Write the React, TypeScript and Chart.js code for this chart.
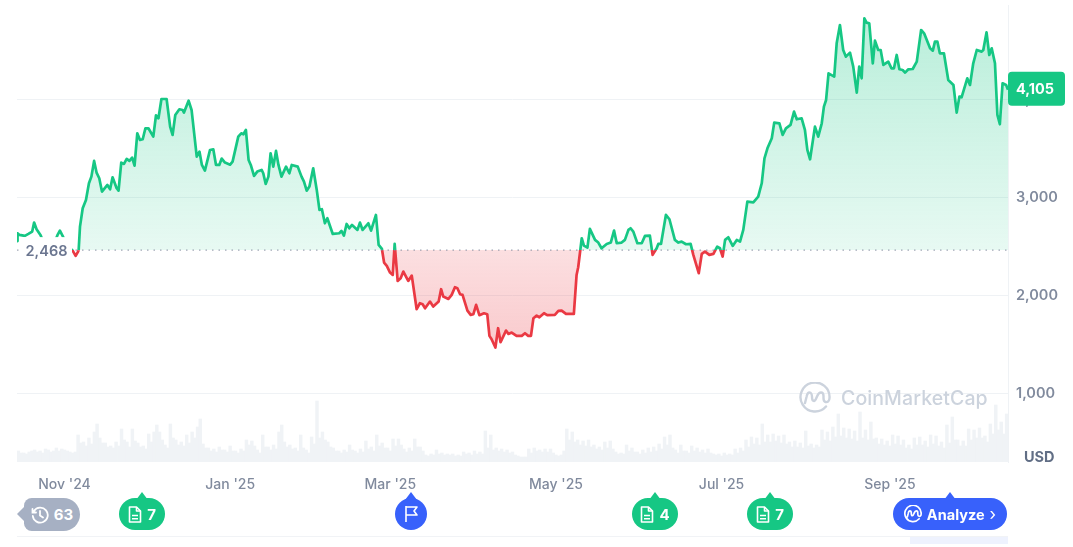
import React, { useEffect, useRef } from 'react';
import { Chart, registerables } from 'chart.js';

Chart.register(...registerables);

// days since the start of the window, and the price read at each of them
const days = [
  0, 0.2, 0.9, 2.9, 4.2, 5.6, 6.3, 7.2, 8.7, 10.3, 12.2, 13.4, 14.9, 15.8, 16.8, 18.3, 19.5, 20.5, 21.6, 22.7,
  23.2, 24.2, 25.4, 26.5, 27.4, 28.4, 29.3, 30.3, 31.3, 33.3, 34.3, 35.2, 36.7, 37.4, 38.4, 39.4, 40.4, 41.4, 42.4, 43.3,
  44.3, 45.3, 46.3, 47.3, 48.4, 50.2, 51.2, 52.1, 53.2, 55.1, 56.4, 57.3, 58.3, 59.8, 61.0, 61.5, 63.2, 64.3, 66.2, 67.2,
  68.1, 69.2, 71.1, 72.3, 73.3, 74.5, 75.4, 76.6, 78.5, 79.4, 81.5, 82.6, 83.4, 84.3, 85.3, 86.1, 87.3, 88.5, 90.1, 90.7,
  91.6, 92.6, 93.4, 94.4, 95.4, 96.3, 97.4, 99.1, 100.3, 101.2, 103.4, 104.8, 105.7, 106.7, 107.7, 109.1, 110.4, 111.4, 112.3, 113.4,
  114.3, 116.3, 118.7, 119.5, 120.4, 121.4, 122.4, 123.4, 125.4, 126.3, 127.3, 129.4, 130.4, 132.2, 133.2, 134.4, 135.2, 136.2, 137.4, 138.4,
  139.1, 140.2, 141.3, 142.3, 144.1, 145.4, 147.2, 148.4, 149.4, 150.3, 152.1, 153.3, 155.3, 156.2, 157.0, 158.9, 160.1, 161.3, 162.2, 163.2,
  164.1, 165.9, 167.1, 168.1, 169.1, 170.3, 172.0, 173.2, 174.0, 174.8, 176.2, 177.2, 178.1, 180.1, 181.0, 182.2, 184.0, 185.9, 187.1, 188.3,
  189.3, 190.2, 191.4, 192.4, 194.1, 195.3, 198.1, 199.4, 200.6, 202.2, 205.1, 206.1, 206.7, 208.0, 208.8, 210.1, 211.0, 212.9, 214.1, 215.3,
  217.2, 218.7, 219.9, 220.9, 222.7, 223.9, 225.2, 226.0, 227.0, 228.5, 230.1, 231.3, 233.1, 234.1, 235.6, 236.2, 237.2, 239.0, 240.3, 242.3,
  243.6, 244.8, 246.4, 248.1, 249.1, 251.1, 252.2, 253.4, 255.0, 256.5, 257.9, 258.9, 259.9, 260.8, 262.0, 263.6, 265.1, 266.3, 267.5, 269.0,
  271.2, 273.0, 274.3, 275.3, 276.4, 278.0, 278.9, 280.8, 282.0, 283.2, 284.9, 286.2, 287.2, 289.0, 290.2, 291.1, 292.1, 293.9, 295.1, 296.4,
  297.2, 298.0, 298.9, 301.0, 301.9, 303.1, 304.3, 305.3, 306.8, 308.0, 309.3, 310.2, 311.1, 312.1, 312.9, 313.9, 315.2, 316.0, 317.2, 318.1,
  319.1, 320.9, 322.1, 323.0, 324.0, 325.0, 326.2, 327.1, 328.3, 329.9, 331.4, 333.0, 334.1, 336.3, 337.3, 338.1, 339.0, 339.9, 341.4, 343.0,
  344.9, 346.1, 347.1, 347.9, 350.0, 351.0, 352.2, 353.5, 355.3, 355.9, 357.1, 358.1, 359.0, 360.2, 361.1, 362.0, 363.0, 364.3, 365,
];

const prices = [
  2560, 2640, 2623, 2613, 2633, 2657, 2749, 2681, 2620, 2504, 2487, 2521, 2620, 2667, 2613, 2521, 2487, 2463, 2409, 2463,
  2708, 2895, 2980, 3150, 3218, 3378, 3259, 3201, 3065, 3133, 3089, 3211, 3099, 3075, 3361, 3347, 3398, 3378, 3412, 3330,
  3660, 3592, 3599, 3711, 3711, 3626, 3844, 3813, 4010, 4010, 3728, 3643, 3847, 3905, 3898, 3871, 3993, 3898, 3422, 3473,
  3337, 3279, 3490, 3497, 3337, 3337, 3402, 3361, 3340, 3371, 3626, 3660, 3650, 3694, 3388, 3337, 3225, 3269, 3286, 3252,
  3143, 3218, 3456, 3320, 3480, 3337, 3218, 3320, 3252, 3337, 3320, 3218, 3167, 3075, 3116, 3303, 3082, 2878, 2885, 2742,
  2793, 2633, 2640, 2664, 2616, 2735, 2691, 2725, 2674, 2749, 2674, 2742, 2667, 2827, 2521, 2480, 2341, 2307, 2239, 2215,
  2531, 2154, 2181, 2249, 2154, 2208, 1865, 1926, 1916, 1875, 1943, 1892, 1943, 2069, 1994, 1970, 2011, 2089, 2079, 2018,
  2011, 1851, 1807, 1814, 1909, 1804, 1824, 1814, 1593, 1559, 1474, 1671, 1528, 1647, 1613, 1627, 1593, 1593, 1620, 1593,
  1593, 1773, 1800, 1783, 1824, 1804, 1807, 1848, 1851, 1817, 1817, 2215, 2293, 2589, 2514, 2494, 2684, 2572, 2545, 2487,
  2531, 2545, 2667, 2538, 2545, 2572, 2674, 2691, 2657, 2538, 2538, 2613, 2616, 2419, 2487, 2531, 2531, 2827, 2783, 2572,
  2545, 2555, 2528, 2531, 2419, 2232, 2429, 2453, 2419, 2429, 2504, 2487, 2402, 2572, 2599, 2511, 2572, 2555, 2674, 2963,
  2956, 3014, 3150, 3405, 3507, 3609, 3769, 3762, 3643, 3711, 3745, 3881, 3803, 3813, 3694, 3490, 3395, 3728, 3626, 3762,
  3932, 4000, 4272, 4238, 4578, 4765, 4510, 4442, 4483, 4340, 4075, 4340, 4221, 4833, 4789, 4782, 4374, 4605, 4510, 4510,
  4357, 4391, 4323, 4323, 4459, 4313, 4306, 4279, 4313, 4316, 4391, 4714, 4680, 4527, 4503, 4595, 4595, 4476, 4476, 4204,
  4153, 3871, 4034, 4027, 4221, 4153, 4374, 4510, 4493, 4510, 4690, 4459, 4527, 4374, 3847, 3752, 4170, 4153, 4105,
];

// one bar a day
const volumes = [
  11, 9, 9, 8, 10, 11, 12, 10, 11, 9, 13, 12, 10, 11, 14, 11, 13, 12, 11, 10,
  9, 10, 27, 19, 20, 16, 24, 18, 30, 38, 24, 19, 19, 15, 16, 14, 20, 16, 33, 22,
  20, 15, 33, 21, 19, 15, 16, 13, 28, 20, 30, 37, 30, 22, 17, 14, 38, 24, 22, 17,
  20, 16, 27, 19, 30, 24, 35, 43, 18, 14, 14, 11, 13, 10, 15, 12, 12, 10, 16, 11,
  11, 9, 13, 11, 22, 17, 21, 16, 12, 9, 27, 15, 15, 12, 17, 13, 30, 37, 20, 15,
  17, 13, 14, 11, 27, 14, 12, 9, 25, 18, 61, 24, 30, 22, 20, 15, 14, 11, 11, 9,
  12, 10, 17, 12, 11, 9, 13, 10, 21, 13, 15, 11, 27, 16, 19, 14, 14, 11, 23, 16,
  23, 17, 13, 10, 14, 11, 23, 15, 15, 11, 7, 6, 8, 7, 12, 8, 9, 7, 8, 7,
  8, 6, 7, 6, 10, 8, 9, 7, 11, 8, 10, 8, 31, 14, 27, 12, 14, 11, 13, 10,
  12, 9, 10, 7, 6, 5, 5, 5, 13, 9, 14, 11, 12, 10, 13, 10, 13, 9, 7, 6,
  7, 11, 33, 22, 30, 20, 22, 17, 21, 16, 22, 15, 17, 13, 15, 12, 20, 14, 21, 13,
  10, 8, 9, 8, 17, 11, 14, 10, 10, 8, 12, 9, 14, 10, 15, 11, 18, 13, 25, 17,
  27, 14, 12, 9, 17, 11, 11, 9, 16, 11, 14, 10, 12, 9, 13, 9, 8, 7, 8, 6,
  9, 7, 8, 7, 13, 9, 14, 11, 22, 15, 25, 18, 24, 17, 38, 20, 27, 20, 28, 21,
  26, 19, 27, 18, 20, 15, 21, 15, 19, 14, 31, 16, 18, 14, 17, 15, 32, 22, 30, 21,
  35, 25, 48, 26, 34, 24, 33, 23, 31, 21, 50, 24, 32, 22, 40, 23, 24, 18, 23, 17,
  21, 16, 27, 18, 26, 17, 22, 14, 17, 13, 24, 17, 25, 17, 21, 15, 27, 18, 26, 16,
  20, 14, 37, 19, 45, 22, 22, 16, 21, 16, 33, 22, 32, 24, 34, 24, 26, 20, 38, 28,
  57, 32, 40, 28, 48, 30,
];

const tickDays = [17.5, 78.5, 137.5, 198.5, 259.5, 321.5];
const tickLabels = ["Nov '24", "Jan '25", "Mar '25", "May '25", "Jul '25", "Sep '25"];
const priceTicks = [1000, 2000, 3000, 4000];

const basePrice = 2468;
const lastPrice = 4105;
const GREEN = '#16c784';
const RED = '#ea3943';
const BLUE = '#3861fb';
const FONT = 'Inter, "Noto Sans", sans-serif';

// line turns red under the reference price
const lineColor = (context: any) => {
  const { chart } = context;
  const { ctx, chartArea, scales } = chart;
  if (!chartArea) return GREEN;
  const gradient = ctx.createLinearGradient(0, chartArea.top, 0, chartArea.bottom);
  const stop = (scales.y.getPixelForValue(basePrice) - chartArea.top) / chartArea.height;
  gradient.addColorStop(0, GREEN);
  gradient.addColorStop(stop, GREEN);
  gradient.addColorStop(stop, RED);
  gradient.addColorStop(1, RED);
  return gradient;
};

const overlayPlugin = {
  id: 'overlay',
  afterDatasetsDraw(chart: any) {
    const { ctx, scales } = chart;
    const baseY = scales.y.getPixelForValue(basePrice);
    const lastY = scales.y.getPixelForValue(lastPrice);
    ctx.save();
    ctx.fillStyle = '#ffffff';
    ctx.fillRect(21, baseY - 13, 51, 26);
    ctx.textBaseline = 'middle';
    ctx.textAlign = 'center';
    ctx.font = `600 14.5px ${FONT}`;
    ctx.fillStyle = '#6b7690';
    ctx.fillText(basePrice.toLocaleString('en-US'), 46.5, baseY + 2);

    ctx.fillStyle = GREEN;
    ctx.beginPath();
    ctx.roundRect(1008, lastY - 18, 57, 34, 4);
    ctx.fill();
    ctx.fillStyle = '#ffffff';
    ctx.font = `700 14.5px ${FONT}`;
    ctx.fillText(lastPrice.toLocaleString('en-US'), 1035, lastY);
    ctx.restore();
  },
};

const DocIcon = () => (
  <svg width="14" height="17" viewBox="0 0 14 17" fill="none" stroke="#fff" strokeWidth="1.6" strokeLinejoin="round">
    <path d="M1.5 1h7l4 4v11h-11z" />
    <path d="M8.5 1v4h4M4 9.5h6M4 12.8h6" />
  </svg>
);

const FlagIcon = () => (
  <svg width="15" height="18" viewBox="0 0 15 18" fill="none" stroke="#fff" strokeWidth="1.6" strokeLinejoin="round">
    <path d="M2 1v16M2 2h11l-3 4 3 4H2" />
  </svg>
);

const ClockIcon = () => (
  <svg width="18" height="18" viewBox="0 0 18 18" fill="none" stroke="#fff" strokeWidth="1.8" strokeLinecap="round">
    <path d="M3 5a7.5 7.5 0 1 1-1.2 5M1.5 3v3.5H5M9 5v4.5l3 2" />
  </svg>
);

const CmcLogo = ({ size, color, width }: { size: number; color: string; width: number }) => (
  <svg width={size} height={size} viewBox="0 0 32 32" fill="none" stroke={color} strokeWidth={width} strokeLinecap="round" strokeLinejoin="round">
    <path d="M27 24.5A14.5 14.5 0 1 1 30.5 16c0 3-2 4.6-4 4-1.700-.5-2-2-2-4v-2c0-2-1-3.500-2.500-3.500S19 12 18 14.500 16.300 19 15 19s-2-1.500-2-4-1-4.500-2.500-4.500S8 12.500 7.500 15l-1.500 6" />
  </svg>
);

const Tip = ({ color, left }: { color: string; left: number }) => (
  <div style={{ position: 'absolute', left, top: -6, width: 0, height: 0, borderLeft: '6px solid transparent', borderRight: '6px solid transparent', borderBottom: `8px solid ${color}` }} />
);

const Badge = ({ left, width, color, children }: { left: number; width: number; color: string; children: React.ReactNode }) => (
  <div style={{ position: 'absolute', left, top: 498, width, height: 32, borderRadius: 16, background: color, color: '#fff', font: `700 15px ${FONT}`, display: 'flex', alignItems: 'center', justifyContent: 'center', gap: 5 }}>
    <Tip color={color} left={width / 2 - 6} />
    {children}
  </div>
);

export default function App() {
  const canvasRef = useRef<HTMLCanvasElement>(null);

  useEffect(() => {
    const canvas = canvasRef.current;
    if (!canvas) return;
    const ctx = canvas.getContext('2d');
    if (!ctx) return;

    const aboveFill = ctx.createLinearGradient(0, 15, 0, 250);
    aboveFill.addColorStop(0, 'rgba(22, 199, 132, 0.3)');
    aboveFill.addColorStop(1, 'rgba(22, 199, 132, 0.1)');
    const belowFill = ctx.createLinearGradient(0, 250, 0, 350);
    belowFill.addColorStop(0, 'rgba(234, 57, 67, 0.16)');
    belowFill.addColorStop(1, 'rgba(234, 57, 67, 0.27)');

    const points = days.map((d, i) => ({ x: d, y: prices[i] }));
    // nothing is filled until the price first crosses back at the reference
    const splitAt = days.indexOf(22.7);

    const lineStyle = {
      borderColor: lineColor,
      borderWidth: 2.7,
      borderJoinStyle: 'round' as const,
      pointRadius: 0,
      tension: 0,
    };

    const chart = new Chart(canvas, {
      type: 'line',
      data: {
        datasets: [
          {
            type: 'bar',
            label: 'Volume',
            yAxisID: 'vol',
            data: volumes.map((v, i) => ({ x: i + 0.5, y: v })),
            backgroundColor: '#f0f3f6',
            barThickness: 2.8,
            order: 4,
          },
          {
            label: 'Reference',
            data: [{ x: 0, y: basePrice }, { x: 365, y: basePrice }],
            borderColor: 'rgba(128, 138, 157, 0.75)',
            borderWidth: 1.2,
            borderDash: [1.5, 5],
            pointRadius: 0,
            order: 1,
          },
          { label: 'Price (start)', data: points.slice(0, splitAt + 1), fill: false, ...lineStyle, order: 2 },
          {
            label: 'Price',
            data: points.slice(splitAt),
            fill: { target: { value: basePrice }, above: aboveFill, below: belowFill },
            ...lineStyle,
            order: 2,
          },
        ] as any,
      },
      options: {
        responsive: false,
        animation: false,
        layout: { padding: { left: 17, top: 5, right: 0, bottom: 0 } },
        plugins: { legend: { display: false }, tooltip: { enabled: false } },
        scales: {
          x: {
            type: 'linear',
            min: 0,
            max: 365,
            offset: false,
            grid: { display: false },
            border: { display: false },
            afterBuildTicks: (scale: any) => {
              scale.ticks = tickDays.map((value) => ({ value }));
            },
            afterFit: (scale: any) => {
              scale.height = 85;
              scale.paddingLeft = 0;
              scale.paddingRight = 0;
            },
            ticks: {
              autoSkip: false,
              maxRotation: 0,
              padding: 6,
              color: '#808a9d',
              font: { family: FONT, size: 14, weight: 500 },
              callback: (value: any) => tickLabels[tickDays.indexOf(value)],
            },
          },
          y: {
            position: 'right',
            min: 306,
            max: 4969,
            grid: { color: '#eff2f5', drawTicks: false },
            border: { display: true, color: '#eff2f5' },
            afterBuildTicks: (scale: any) => {
              scale.ticks = priceTicks.map((value) => ({ value }));
            },
            afterFit: (scale: any) => {
              scale.width = 65;
              scale.paddingTop = 0;
              scale.paddingBottom = 0;
            },
            ticks: {
              padding: 8,
              color: '#808a9d',
              font: { family: FONT, size: 14.5, weight: 600 },
              callback: (value: any) => Number(value).toLocaleString('en-US'),
            },
          },
          vol: { display: false, min: 0, max: 457 },
        },
      },
      plugins: [overlayPlugin],
    } as any);

    return () => chart.destroy();
  }, []);

  return (
    <div style={{ position: 'fixed', left: 0, top: 0, width: 1073, height: 547, background: '#fff', overflow: 'hidden', fontFamily: FONT }}>
      <canvas ref={canvasRef} width={1073} height={547} style={{ position: 'absolute', left: 0, top: 0, width: 1073, height: 547 }} />

      <div style={{ position: 'absolute', left: 799, top: 382, display: 'flex', alignItems: 'center', gap: 10 }}>
        <CmcLogo size={32} color="#ccd3dd" width={2.4} />
        <span style={{ font: `500 19.5px ${FONT}`, color: '#ccd3dd', letterSpacing: 0.1 }}>CoinMarketCap</span>
      </div>

      <div style={{ position: 'absolute', left: 1024, top: 448, font: `700 14.5px ${FONT}`, color: '#616e85' }}>USD</div>

      <div style={{ position: 'absolute', left: 24, top: 498, width: 56, height: 33, borderRadius: '8px 17px 17px 8px', background: '#a6b0c3', color: '#fff', font: `700 15px ${FONT}`, display: 'flex', alignItems: 'center', justifyContent: 'center', gap: 5 }}>
        <div style={{ position: 'absolute', left: -7, top: 8, width: 0, height: 0, borderTop: '8px solid transparent', borderBottom: '8px solid transparent', borderRight: '8px solid #a6b0c3' }} />
        <ClockIcon />
        <span>63</span>
      </div>

      <Badge left={119} width={46} color={GREEN}><DocIcon /><span>7</span></Badge>
      <Badge left={395} width={32} color={BLUE}><FlagIcon /></Badge>
      <Badge left={632} width={46} color={GREEN}><DocIcon /><span>4</span></Badge>
      <Badge left={747} width={46} color={GREEN}><DocIcon /><span>7</span></Badge>
      <Badge left={893} width={114} color={BLUE}>
        <CmcLogo size={18} color="#fff" width={3} />
        <span style={{ fontSize: 14.5 }}>Analyze</span>
        <span style={{ fontWeight: 400, fontSize: 17 }}>›</span>
      </Badge>

      <div style={{ position: 'absolute', left: 17, top: 536, width: 991, height: 1, background: '#f1f3f6' }} />
      <div style={{ position: 'absolute', left: 910, top: 537, width: 98, height: 7, background: '#eef2fe' }} />
    </div>
  );
}
